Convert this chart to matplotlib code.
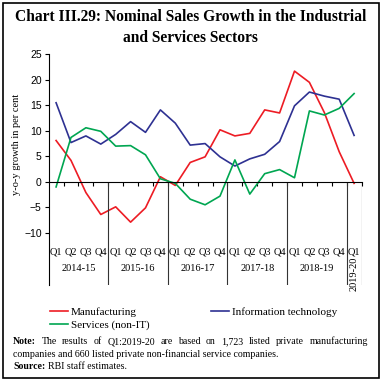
import matplotlib
matplotlib.use("Agg")
from matplotlib import pyplot as plt
from matplotlib import patches

# data (y-o-y growth, per cent)
quarters = ["Q1", "Q2", "Q3", "Q4"] * 5 + ["Q1"]
years = ["2014-15", "2015-16", "2016-17", "2017-18", "2018-19"]
last_year = "2019-20"

manufacturing = [8.1, 4.2, -2.1, -6.4, -4.9, -7.9, -5.1, 1.0, -0.7, 3.8,
                 4.9, 10.2, 9.0, 9.5, 14.1, 13.5, 21.7, 19.5, 13.6, 5.9, -0.3]
info_tech = [15.5, 7.7, 9.0, 7.4, 9.3, 11.8, 9.7, 14.1, 11.5, 7.2,
             7.5, 4.9, 3.1, 4.5, 5.4, 7.9, 14.9, 17.6, 16.8, 16.2, 9.1]
services = [-1.0, 8.7, 10.6, 9.9, 7.0, 7.1, 5.3, 0.6, -0.3, -3.4,
            -4.5, -2.8, 4.3, -2.4, 1.6, 2.4, 0.8, 13.9, 13.1, 14.4, 17.3]

RED = "#ed1c24"
BLUE = "#2e3192"
GREEN = "#00a651"
SERIF = ["Liberation Serif", "DejaVu Serif"]

plt.rcParams['font.family'] = SERIF

fig = plt.figure(figsize=(3.83, 3.85), dpi=100)
ax = fig.add_axes([0.127, 0.26, 0.817, 0.599])

x = list(range(len(quarters)))
l1, = ax.plot(x, manufacturing, color=RED, lw=1.2)
l3, = ax.plot(x, info_tech, color=BLUE, lw=1.2)
l2, = ax.plot(x, services, color=GREEN, lw=1.2)

ylo = -20.2
ax.set_xlim(-0.5, len(quarters) - 0.5)
ax.set_ylim(ylo, 25)

for s in ["top", "right"]:
    ax.spines[s].set_visible(False)
ax.spines["left"].set_linewidth(0.8)
ax.spines["bottom"].set_position(("data", 0))
ax.spines["bottom"].set_linewidth(0.8)

ax.set_yticks(range(-10, 26, 5))
ax.tick_params(axis="y", direction="out", length=3, width=0.8, labelsize=7.5, pad=2)
for t in ax.get_yticklabels():
    t.set_family(["Liberation Sans", "DejaVu Sans"])
ax.set_xticks([i + 0.5 for i in x])
ax.set_xticklabels([])
ax.tick_params(axis="x", direction="out", length=3, width=0.8)

# year separators below the zero line
bounds = [3.5, 7.5, 11.5, 15.5, 19.5, 20.5]
ax.vlines(bounds, ylo, 0, color="#333333", lw=0.8)

for i, q in enumerate(quarters):
    ax.text(i, -13.7, q, ha="center", va="center", fontsize=7.5)
for k, yr in enumerate(years):
    ax.text(4 * k + 1.5, -16.9, yr, ha="center", va="center", fontsize=7.5)
ax.text(20, -18.1, last_year, ha="center", va="center", rotation=90,
        fontsize=7.5, clip_on=False)

ax.set_ylabel("y-o-y growth in per cent", fontsize=7.5)
ax.yaxis.set_label_coords(-0.088, 0.61)

fig.text(0.497, 0.957, "Chart III.29: Nominal Sales Growth in the Industrial",
         ha="center", va="center", fontsize=11.2, fontweight="bold")
fig.text(0.497, 0.902, "and Services Sectors",
         ha="center", va="center", fontsize=11.2, fontweight="bold")

fig.legend([l1, l2, l3], ["Manufacturing", "Services (non-IT)", "Information technology"],
           ncol=2, loc="upper left", bbox_to_anchor=(0.11, 0.222), frameon=False,
           fontsize=8, handlelength=1.6, handletextpad=0.3, columnspacing=5.5,
           labelspacing=0.25, borderpad=0.2)

# note, first line justified across the box
fs = 7.1
renderer = fig.canvas.get_renderer()
words = ["Note:", "The", "results", "of", "Q1:2019-20", "are", "based", "on", "1,723",
         "listed", "private", "manufacturing"]
x0, x1 = 13 / 383, 368 / 383
y_note = 0.106
objs = []
for w in words:
    t = fig.text(0, y_note, w, fontsize=fs, fontweight="bold" if w == "Note:" else "normal")
    objs.append(t)
widths = [o.get_window_extent(renderer).width / fig.bbox.width for o in objs]
gap = (x1 - x0 - sum(widths)) / (len(words) - 1)
pos = x0
for o, w in zip(objs, widths):
    o.set_x(pos)
    pos += w + gap

fig.text(x0, 0.073, "companies and 660 listed private non-financial service companies.",
         fontsize=fs)
src = fig.text(x0, 0.041, "Source:", fontsize=fs, fontweight="bold")
sw = src.get_window_extent(renderer).width / fig.bbox.width
fig.text(x0 + sw + 0.006, 0.041, "RBI staff estimates.", fontsize=fs)

fig.patches.append(patches.Rectangle((0.008, 0.018), 0.982, 0.974, transform=fig.transFigure,
                                     fill=False, edgecolor="black", lw=1.2))

fig.savefig("out.png", dpi=100)
